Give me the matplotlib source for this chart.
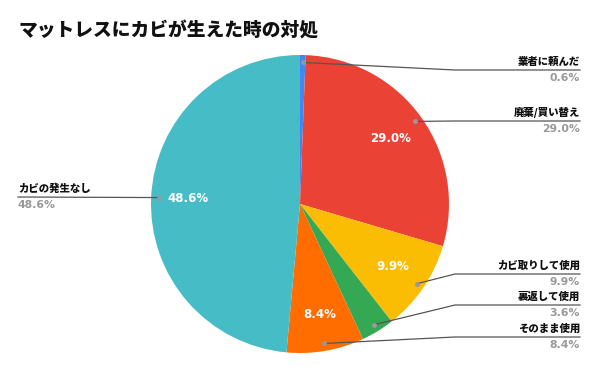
import matplotlib.pyplot as plt
import numpy as np

plt.rcParams['font.family'] = ['Noto Sans CJK JP', 'DejaVu Sans']

labels = ['業者に頼んだ', '廃棄/買い替え', 'カビ取りして使用', '裏返して使用', 'そのまま使用', 'カビの発生なし']
values = [0.6, 29.0, 9.9, 3.6, 8.4, 48.6]
colors = ['#4285F4', '#EA4335', '#FBBC04', '#34A853', '#FF6D01', '#46BDC6']

# label line heights (pixels from top) and side
line_y = [70, 121, 274, 305, 337, 197]
side = ['r', 'r', 'r', 'r', 'r', 'l']

W, H = 600, 371
fig = plt.figure(figsize=(6, 3.71), dpi=100)
ax = fig.add_axes([0, 0, 1, 1])

cx, cy, R = 300, H - 204, 149

def fy(y):
    return H - y

wedges, _ = ax.pie(values, colors=colors, startangle=90, counterclock=False,
                   center=(cx, cy), radius=R, frame=True,
                   wedgeprops=dict(linewidth=0))
ax.set_xlim(0, W)
ax.set_ylim(0, H)
ax.set_aspect('equal')
ax.axis('off')

total = sum(values)
cum = 0
for i, v in enumerate(values):
    mid = (cum + v / 2) / total * 360
    cum += v
    a = np.deg2rad(90 - mid)
    # percent inside the bigger slices
    if v > 5:
        r_in = 0.75 * R
        ax.text(cx + r_in * np.cos(a), cy + r_in * np.sin(a), f'{v:.1f}%',
                color='white', fontsize=8.5, fontweight='bold',
                family='DejaVu Sans', ha='center', va='center')
    # leader line
    dx, dy = cx + 0.95 * R * np.cos(a), cy + 0.95 * R * np.sin(a)
    ly = fy(line_y[i])
    if side[i] == 'r':
        ax.plot([dx, 455, 580], [dy, ly, ly], color='#555555', lw=0.9)
        x0, ha = 580, 'right'
    else:
        ax.plot([18, dx], [ly, dy], color='#555555', lw=0.9)
        x0, ha = 18, 'left'
    ax.text(x0, ly + 3, labels[i], ha=ha, va='bottom',
            fontsize=7.5, fontweight='heavy', color='#111111')
    ax.text(x0, ly - 3, f'{v:.1f}%', ha=ha, va='top',
            fontsize=7.8, fontweight='bold', color='#999999', family='DejaVu Sans')
    ax.plot(dx, dy, 'o', color='#999999', ms=2.5)

ax.text(18, fy(31), 'マットレスにカビが生えた時の対処', fontsize=13.5,
        fontweight='heavy', ha='left', va='center', color='#111111')

fig.savefig('out.png', dpi=100)
